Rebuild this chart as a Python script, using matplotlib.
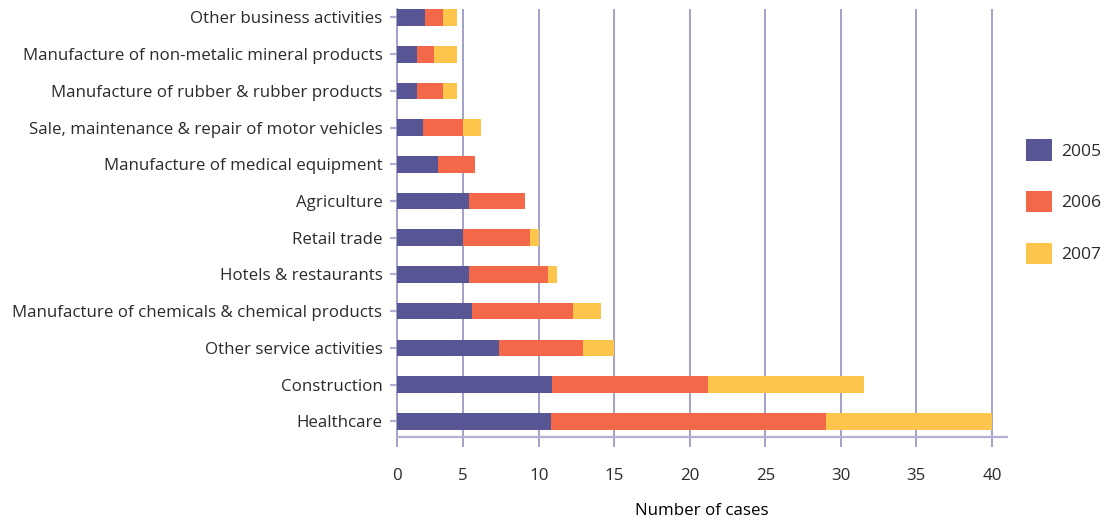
import numpy as np
import matplotlib
matplotlib.use("Agg")
import matplotlib.pyplot as plt
from matplotlib.patches import Patch

# Cases per sector, stacked by year (top row first)
sectors = [
    "Other business activities",
    "Manufacture of non-metalic mineral products",
    "Manufacture of rubber & rubber products",
    "Sale, maintenance & repair of motor vehicles",
    "Manufacture of medical equipment",
    "Agriculture",
    "Retail trade",
    "Hotels & restaurants",
    "Manufacture of chemicals & chemical products",
    "Other service activities",
    "Construction",
    "Healthcare",
]
cases_2005 = [2.1, 1.5, 1.5, 2.0, 3.1, 5.4, 5.0, 5.4, 5.6, 7.4, 10.9, 10.8]
cases_2006 = [1.35, 1.3, 2.0, 3.0, 2.7, 3.7, 4.4, 5.2, 6.7, 5.5, 10.3, 18.2]
cases_2007 = [1.05, 1.7, 1.05, 1.2, 0.0, 0.0, 0.6, 0.6, 1.8, 2.1, 10.3, 11.0]
years = ["2005", "2006", "2007"]
xticks = [0, 5, 10, 15, 20, 25, 30, 35, 40]

COLORS = ["#585594", "#f26849", "#fec54c"]
GRID = "#8c88ba"
AXIS = "#b3b0d3"
TEXT = "#2b2b2b"
FS = 12.2

plt.rcParams.update({
    "font.family": ["Open Sans", "DejaVu Sans"],
    "font.size": FS,
    "text.color": TEXT,
    "xtick.color": TEXT,
    "ytick.color": TEXT,
})

# first interval on the axis is drawn narrower than the rest
R = 0.877


def fwd(x):
    x = np.asarray(x, dtype=float)
    return np.where(x < 5, x * R, x - 5 + 5 * R)


def inv(y):
    y = np.asarray(y, dtype=float)
    return np.where(y < 5 * R, y / R, y + 5 - 5 * R)


fig = plt.figure(figsize=(11.07, 5.21), dpi=100)
ax = fig.add_axes([397 / 1107, 1 - 436.7 / 521, (1007 - 397) / 1107, (436.7 - 9) / 521])
ax.set_xscale("function", functions=(fwd, inv))

y = np.arange(len(sectors))
left = np.zeros(len(sectors))
for vals, col, yr in zip([cases_2005, cases_2006, cases_2007], COLORS, years):
    ax.barh(y, vals, left=left, height=0.455, color=col, label=yr, zorder=3)
    left = left + np.array(vals)

ax.set_xlim(0, 41)
ax.set_ylim(len(sectors) - 1 + 0.42, -0.23)
ax.set_xticks(xticks)
ax.set_xticklabels([str(t) for t in xticks])
ax.set_yticks(y)
ax.set_yticklabels(sectors)
ax.minorticks_off()

for t in xticks[1:]:
    ax.axvline(t, color=GRID, lw=1.1, zorder=1)

for s in ["top", "right"]:
    ax.spines[s].set_visible(False)
ax.spines["left"].set_color(GRID)
ax.spines["left"].set_linewidth(1.1)
ax.spines["bottom"].set_color(AXIS)
ax.spines["bottom"].set_linewidth(1.6)

ax.tick_params(axis="x", length=7.5, width=1.1, color=GRID, pad=15)
ax.tick_params(axis="y", length=5, width=1.6, color=AXIS, pad=5.5)
ax.set_xlabel("Number of cases", labelpad=14)

handles = [Patch(facecolor=c, label=yr) for c, yr in zip(COLORS, years)]
sq = 25 / (FS * 100 / 72)
fig.legend(handles=handles, loc="center left", bbox_to_anchor=(1010 / 1107, 1 - 201.7 / 521),
           frameon=False, handlelength=sq, handleheight=sq,
           labelspacing=1.75, handletextpad=0.55, fontsize=12.6)

fig.savefig("out.png", dpi=100)
